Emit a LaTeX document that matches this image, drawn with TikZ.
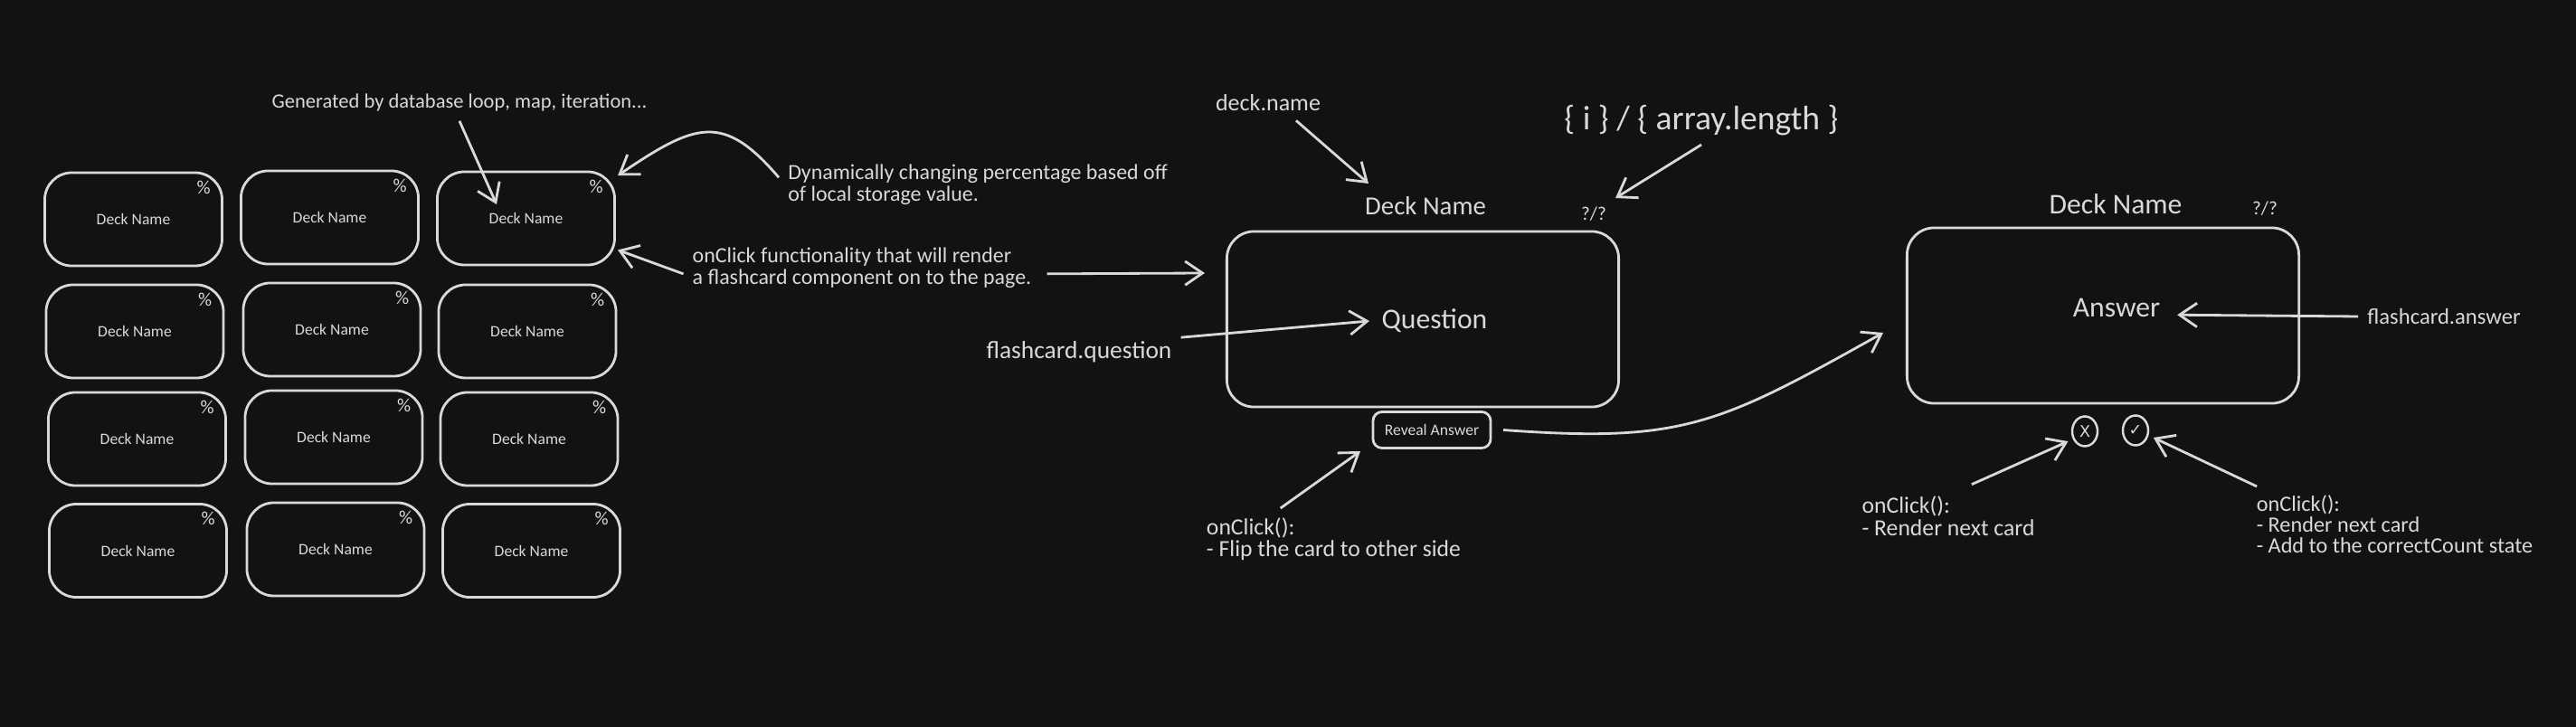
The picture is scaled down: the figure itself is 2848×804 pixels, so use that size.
\documentclass[tikz,border=0pt]{standalone}
\usepackage{xcolor}
\usepackage{fontspec}
\setmainfont{Carlito}
\newfontfamily\symfont{DejaVu Sans}
\usetikzlibrary{arrows.meta, positioning, shapes.geometric}
\definecolor{boardbg}{HTML}{121212}
\definecolor{ink}{HTML}{D9D9D9}
\tikzset{
    >={Straight Barb[length=5.5pt,width=7.5pt]},
    card/.style={draw=ink, line width=0.8pt, rounded corners=0.3cm, minimum width=1.96cm, minimum height=1.03cm, inner sep=0pt, outer sep=1pt, text=ink, font=\fontsize{5}{6}\selectfont},
    bigcard/.style={draw=ink, line width=0.8pt, rounded corners=0.3cm, minimum width=4.33cm, minimum height=1.94cm, inner sep=0pt},
    pct/.style={text=ink, inner sep=0pt, font=\fontsize{6}{6}\selectfont},
    note/.style={text=ink, inner sep=2.5pt, align=left, font=\fontsize{6.8}{6.9}\selectfont},
    longnote/.style={note, font=\fontsize{7.3}{7}\selectfont},
    midnote/.style={text=ink, inner sep=2.5pt, font=\fontsize{7.4}{8}\selectfont},
    bigtext/.style={text=ink, inner sep=5pt, font=\fontsize{9}{10}\selectfont},
    roundbtn/.style={draw=ink, line width=0.7pt, ellipse, minimum width=0.28cm, minimum height=0.33cm, inner sep=0pt, outer sep=2pt, text=ink, font=\fontsize{5}{5}\symfont},
}
\begin{document}
\begin{tikzpicture}[x=0.01cm, y=-0.01cm, line width=0.8pt, draw=ink]

        \fill[boardbg] (0,0) rectangle (2848,804);

        % deck grid
        \node[card] (c11) at (147.5,242.5) {Deck Name};
        \node[card] (c12) at (364.5,240.5) {Deck Name};
        \node[card] (c13) at (581.5,241.5) {Deck Name};
        \node[card] (c21) at (149,366.5) {Deck Name};
        \node[card] (c22) at (367,364.5) {Deck Name};
        \node[card] (c23) at (583,366.5) {Deck Name};
        \node[card] (c31) at (151.5,485.5) {Deck Name};
        \node[card] (c32) at (369,483.5) {Deck Name};
        \node[card] (c33) at (585,485.5) {Deck Name};
        \node[card] (c41) at (152.5,609) {Deck Name};
        \node[card] (c42) at (371,607.5) {Deck Name};
        \node[card] (c43) at (587.5,609) {Deck Name};

        \node[pct, below left=0.11cm and 0.15cm of c11.north east] (p11) {\%};
        \node[pct, below left=0.11cm and 0.15cm of c12.north east] (p12) {\%};
        \node[pct, below left=0.11cm and 0.15cm of c13.north east] (p13) {\%};
        \node[pct, below left=0.11cm and 0.15cm of c21.north east] (p21) {\%};
        \node[pct, below left=0.11cm and 0.15cm of c22.north east] (p22) {\%};
        \node[pct, below left=0.11cm and 0.15cm of c23.north east] (p23) {\%};
        \node[pct, below left=0.11cm and 0.15cm of c31.north east] (p31) {\%};
        \node[pct, below left=0.11cm and 0.15cm of c32.north east] (p32) {\%};
        \node[pct, below left=0.11cm and 0.15cm of c33.north east] (p33) {\%};
        \node[pct, below left=0.11cm and 0.15cm of c41.north east] (p41) {\%};
        \node[pct, below left=0.11cm and 0.15cm of c42.north east] (p42) {\%};
        \node[pct, below left=0.11cm and 0.15cm of c43.north east] (p43) {\%};

        \node[note, font=\fontsize{6.4}{7}\selectfont] (gen) at (508,114) {Generated by database loop, map, iteration...};
        \node[note] (dyn) at (1081,204) {Dynamically changing percentage based off\\of local storage value.};
        \node[note] (clk) at (953,296) {onClick functionality that will render\\a flashcard component on to the page.};

        % question side
        \node[bigcard] (qcard) at (1573,353) {};
        \node[bigtext, inner sep=3.5pt] (qtext) at (1586,355) {Question};
        \node[bigtext, inner sep=2.5pt, font=\fontsize{8.2}{10}\selectfont] (qtitle) at (1576,228) {Deck Name};
        \node[pct, inner sep=2.5pt] (qpct) at (1762,237) {?/?};
        \node[midnote] (dname) at (1402,114) {deck.name};
        \node[bigtext, inner sep=2.5pt, font=\fontsize{10.7}{12}\selectfont] (arrlen) at (1881,133) {\{ i \} / \{ array.length \}};
        \node[midnote, font=\fontsize{7.8}{8}\selectfont] (fq) at (1193,389) {flashcard.question};
        \node[card, minimum width=1.3cm, minimum height=0.4cm, rounded corners=0.1cm, font=\fontsize{5}{6}\selectfont] (reveal) at (1583,475.5) {Reveal Answer};
        \node[longnote] (flip) at (1474.5,596) {onClick():\\- Flip the card to other side};

        % answer side
        \node[bigcard] (acard) at (2325,349) {};
        \node[bigtext] (atext) at (2340,340) {Answer};
        \node[bigtext, inner sep=2.5pt] (atitle) at (2339,226) {Deck Name};
        \node[pct, inner sep=2.5pt] (apct) at (2504,231) {?/?};
        \node[midnote, font=\fontsize{7}{8}\selectfont] (fa) at (2702,350) {flashcard.answer};
        \node[roundbtn] (xbtn) at (2305,477) {X};
        \node[roundbtn] (okbtn) at (2361,476) {✓};
        \node[longnote] (wrong) at (2154,571) {onClick():\\- Render next card};
        \node[note, font=\fontsize{6.9}{6.5}\selectfont] (right) at (2647.5,580) {onClick():\\- Render next card\\- Add to the correctCount state};

        \coordinate (genEnd) at (549,226);
        \coordinate (openEnd) at (1332,302);
        \coordinate (flipEnd) at (2082,368);
        \coordinate (nameEnd) at (1513,203);
        \coordinate (revealIn) at (1504,499);

        \path[->]
        (gen.south) edge (genEnd)
        (clk.182) edge (c13.-19)
        (clk.-2) edge[shorten <=2pt] (openEnd)
        (dname.-32) edge (nameEnd)
        (arrlen.south) edge (qpct.north east)
        (fq.8) edge (qtext.west)
        (flip.150) edge (revealIn)
        (fa.west) edge (atext.-7)
        (wrong.60) edge[shorten <=2.3pt] (xbtn.211)
        ([xshift=3pt]right.north west) edge (okbtn.-22);

        \draw[->] (dyn.178) .. controls (800,125) and (770,135) .. (c13.25);
        \draw[->] ([xshift=3pt]reveal.east) .. controls (1860,490) and (1900,470) .. (flipEnd);

\end{tikzpicture}
\end{document}
